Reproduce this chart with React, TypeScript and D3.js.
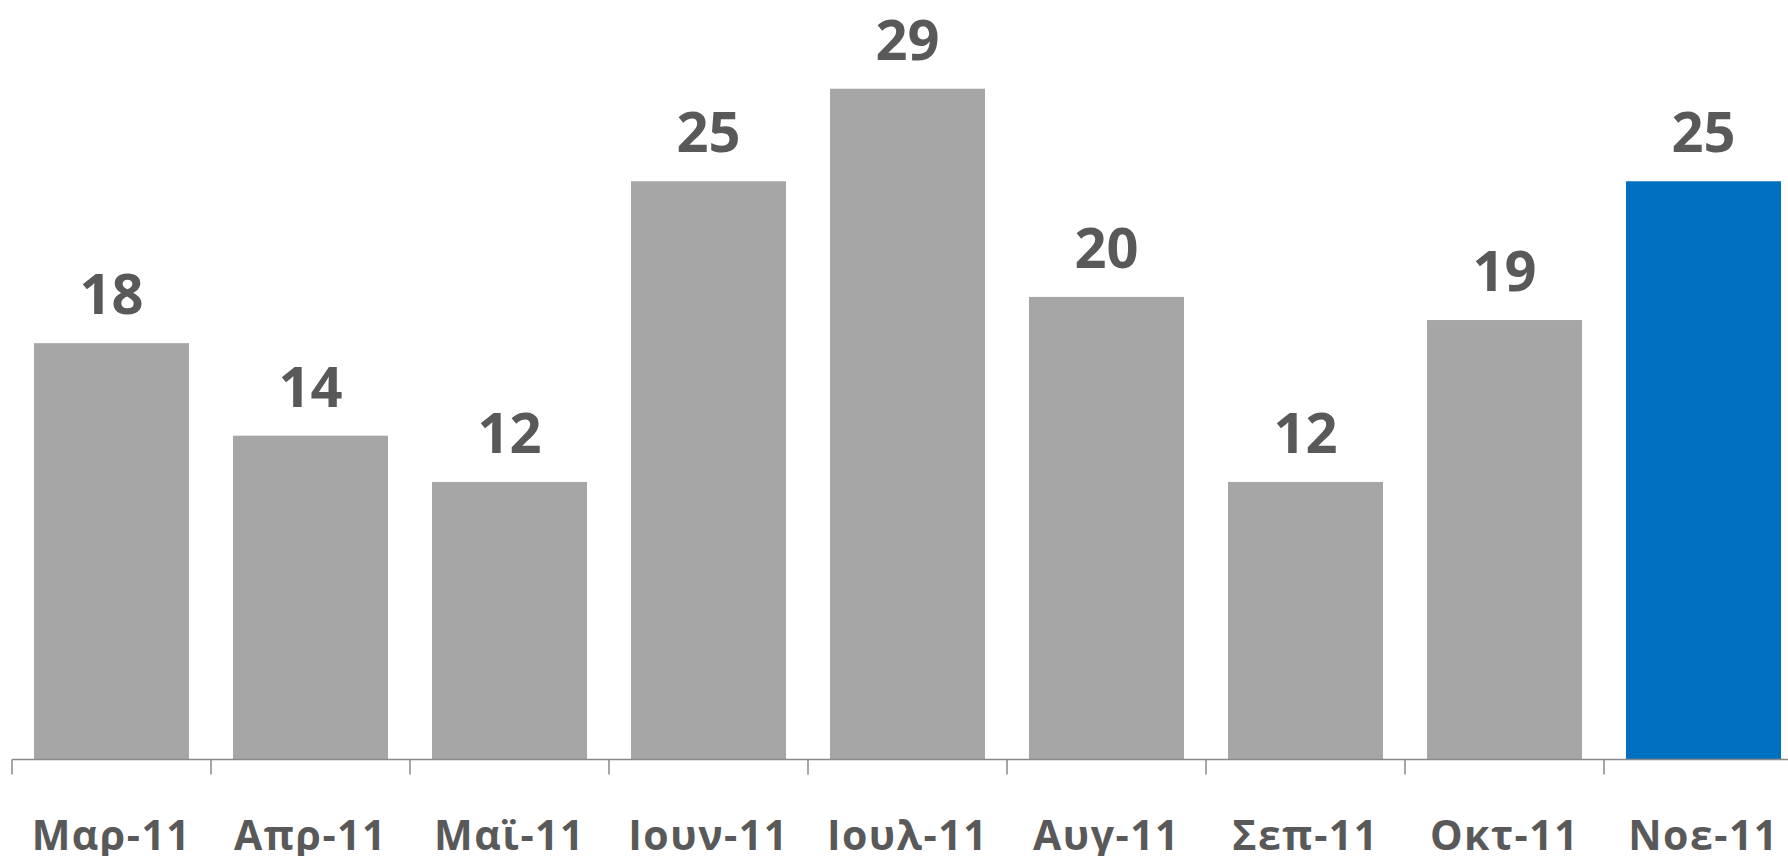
import React, { useEffect } from "react";
import * as d3 from "d3";

const categories = ["Μαρ-11", "Απρ-11", "Μαϊ-11", "Ιουν-11", "Ιουλ-11", "Αυγ-11", "Σεπ-11", "Οκτ-11", "Νοε-11"];
const values = [18, 14, 12, 25, 29, 20, 12, 19, 25];
const highlight = ["Νοε-11"];

const W = 1788;
const H = 856;

export default function App() {
  useEffect(() => {
    document.body.style.margin = "0";
  }, []);

  const baseY = 759.5;
  const x = d3
    .scaleBand<string>()
    .domain(categories)
    .range([12, 12 + 199 * categories.length])
    .paddingInner(44 / 199)
    .paddingOuter(22 / 199);
  const y = d3.scaleLinear().domain([0, 29]).range([baseY, baseY - 23.13 * 29]);
  const step = x.step();

  return (
    <svg width={W} height={H} style={{ display: "block" }} fontFamily="'Open Sans', 'Noto Sans', sans-serif">
      {categories.map((c, i) => (
        <rect
          key={c}
          x={x(c)}
          y={y(values[i])}
          width={x.bandwidth()}
          height={baseY - y(values[i])}
          fill={highlight.includes(c) ? "#0070C0" : "#A6A6A6"}
        />
      ))}
      <line x1={12} x2={W} y1={baseY} y2={baseY} stroke="#898989" strokeWidth={1.5} />
      {categories.map((c) => {
        const tx = (x(c) as number) - x.paddingInner() * step / 2;
        return <line key={"t" + c} x1={tx} x2={tx} y1={baseY} y2={baseY + 15} stroke="#898989" strokeWidth={1.5} />;
      })}
      {categories.map((c, i) => (
        <text
          key={"v" + c}
          x={(x(c) as number) + x.bandwidth() / 2}
          y={y(values[i]) - 29}
          textAnchor="middle"
          fontSize={56}
          fontWeight={700}
          fill="#595959"
        >
          {values[i]}
        </text>
      ))}
      {categories.map((c) => (
        <text
          key={"c" + c}
          x={(x(c) as number) + x.bandwidth() / 2}
          y={850}
          textAnchor="middle"
          fontSize={41}
          fontWeight={700}
          letterSpacing={1.5}
          fill="#595959"
        >
          {c}
        </text>
      ))}
    </svg>
  );
}
